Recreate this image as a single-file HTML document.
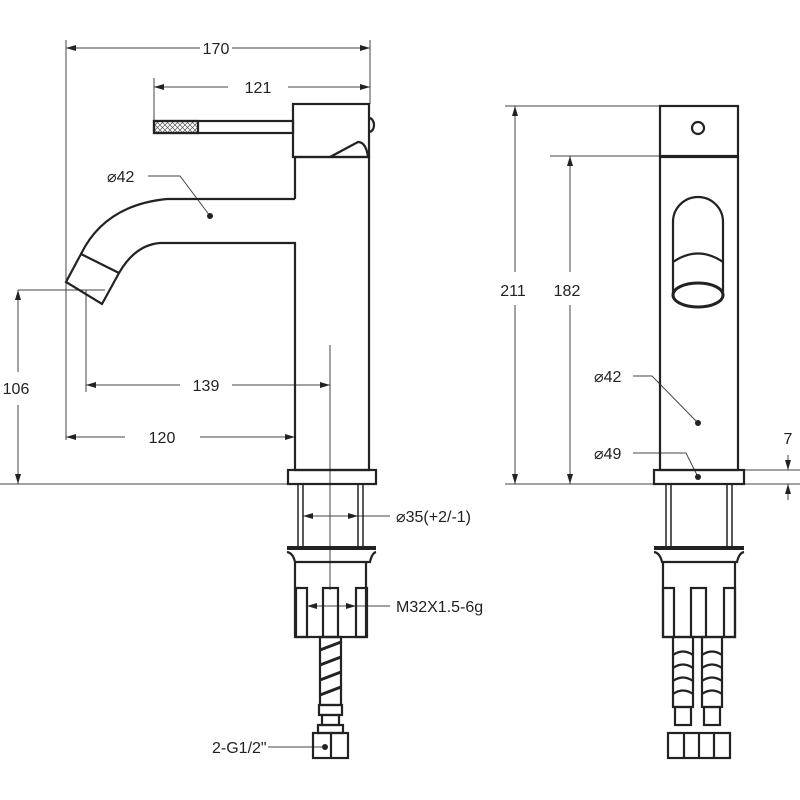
<!DOCTYPE html>
<html><head><style>html,body{margin:0;background:#fff}svg{display:block}text{font-family:"Liberation Sans",sans-serif;font-size:16px;fill:#222}</style></head><body>
<svg width="800" height="800" viewBox="0 0 800 800" xmlns="http://www.w3.org/2000/svg">
<defs>
<marker id="a" markerWidth="10" markerHeight="6" refX="10" refY="3" orient="auto-start-reverse" markerUnits="userSpaceOnUse"><path d="M0,0 L10,3 L0,6z" fill="#222"/></marker>
<pattern id="h" width="5" height="5" patternUnits="userSpaceOnUse"><path d="M0,0L5,5M5,0L0,5" stroke="#555" stroke-width="0.7"/></pattern>
</defs>
<g stroke="#444" stroke-width="1" fill="none">
<path d="M66,40V440M370,40V104M154,78V121M18,290H105M86,290V392M295,430V444M330,345V590M0,484H376M505,484H800M505,106H660M550,156H660M744,470H800M744,484H800"/>
<line x1="66" y1="48" x2="200" y2="48" marker-start="url(#a)"/><line x1="232" y1="48" x2="370" y2="48" marker-end="url(#a)"/>
<line x1="154" y1="87" x2="228" y2="87" marker-start="url(#a)"/><line x1="288" y1="87" x2="370" y2="87" marker-end="url(#a)"/>
<line x1="86" y1="385" x2="180" y2="385" marker-start="url(#a)"/><line x1="232" y1="385" x2="330" y2="385" marker-end="url(#a)"/>
<line x1="66" y1="437" x2="125" y2="437" marker-start="url(#a)"/><line x1="200" y1="437" x2="295" y2="437" marker-end="url(#a)"/>
<line x1="18" y1="290" x2="18" y2="372" marker-start="url(#a)"/><line x1="18" y1="405" x2="18" y2="484" marker-end="url(#a)"/>
<line x1="303" y1="516" x2="358" y2="516" marker-start="url(#a)" marker-end="url(#a)"/><line x1="358" y1="516" x2="390" y2="516"/>
<line x1="307" y1="606" x2="356" y2="606" marker-start="url(#a)" marker-end="url(#a)"/><line x1="356" y1="606" x2="390" y2="606"/>
<line x1="268" y1="747" x2="325" y2="747"/>
<path d="M148,176H180L210,216"/>
<line x1="515" y1="106" x2="515" y2="272" marker-start="url(#a)"/><line x1="515" y1="305" x2="515" y2="484" marker-end="url(#a)"/>
<line x1="570" y1="156" x2="570" y2="272" marker-start="url(#a)"/><line x1="570" y1="305" x2="570" y2="484" marker-end="url(#a)"/>
<path d="M633,376H652L698,423M633,453H686L698,477"/>
<line x1="788" y1="455" x2="788" y2="470" marker-end="url(#a)"/><line x1="788" y1="500" x2="788" y2="484" marker-end="url(#a)"/>
</g>
<g fill="#222"><circle cx="210" cy="216" r="3"/><circle cx="698" cy="423" r="3"/><circle cx="698" cy="477" r="3"/><circle cx="325" cy="747" r="3"/></g>
<g stroke="#222" stroke-width="2.2" fill="none">
<rect x="154" y="121" width="139" height="12" fill="#fff"/>
<rect x="154" y="121" width="44" height="12" fill="url(#h)"/>
<rect x="293" y="104" width="76" height="53"/>
<path d="M330,157L358,142Q366,142 368,157"/>
<path d="M369,118a5,7 0 0 1 0,14"/>
<path d="M295,157V199M295,157H369V470H295V243H160Q135,245 119,273M295,199H167Q105,205 81,254"/>
<path d="M81,254L66,282L102,304L119,273Z"/>
<rect x="288" y="470" width="88" height="14"/>
<path d="M298,484V548M303,484V548M358,484V548M363,484V548" stroke-width="1.5"/>
<path d="M287,548H376" stroke-width="4"/>
<path d="M287,552Q293,553 295,562H370Q372,553 376,552M295,562V637H366V562"/>
<rect x="296" y="588" width="11" height="49"/><rect x="323" y="588" width="15" height="49"/><rect x="356" y="588" width="11" height="49"/>
<rect x="320" y="637" width="21" height="68"/>
<path d="M320,650L341,642M320,665L341,657M320,680L341,672M320,695L341,687" stroke-width="3"/>
<rect x="319" y="705" width="23" height="10"/><rect x="322" y="715" width="17" height="10"/><rect x="318" y="725" width="25" height="8"/>
<rect x="313" y="733" width="35" height="25"/><path d="M331,733V758"/>
</g>
<g stroke="#222" stroke-width="2.2" fill="none">
<rect x="660" y="106" width="78" height="50"/><circle cx="698" cy="128" r="6"/>
<rect x="660" y="157" width="78" height="313"/>
<path d="M673,295V222A25,25 0 0 1 723,222V295M673,262Q698,245 723,262"/>
<ellipse cx="698" cy="295" rx="25" ry="12" stroke-width="3"/>
<rect x="654" y="470" width="90" height="14"/>
<path d="M666,484V548M671,484V548M727,484V548M732,484V548" stroke-width="1.5"/>
<path d="M654,548H744" stroke-width="4"/>
<path d="M654,552Q660,553 662,562H737Q739,553 744,552M663,562V637H735V562"/>
<rect x="663" y="588" width="11" height="49"/><rect x="691" y="588" width="15" height="49"/><rect x="724" y="588" width="11" height="49"/>
<rect x="673" y="637" width="20" height="70"/><rect x="702" y="637" width="20" height="70"/>
<path d="M673,655Q683,648 693,655M673,668Q683,661 693,668M673,681Q683,674 693,681M673,694Q683,687 693,694M702,655Q712,648 722,655M702,668Q712,661 722,668M702,681Q712,674 722,681M702,694Q712,687 722,694"/>
<rect x="675" y="707" width="16" height="18"/><rect x="704" y="707" width="16" height="18"/>
<rect x="668" y="733" width="62" height="25"/><path d="M684,733V758M699,733V758M714,733V758"/>
</g>
<g>
<text x="216" y="54" text-anchor="middle">170</text>
<text x="258" y="93" text-anchor="middle">121</text>
<text x="107" y="182">⌀42</text>
<text x="206" y="391" text-anchor="middle">139</text>
<text x="162" y="443" text-anchor="middle">120</text>
<text x="16" y="394" text-anchor="middle">106</text>
<text x="396" y="522">⌀35(+2/-1)</text>
<text x="396" y="612">M32X1.5-6g</text>
<text x="212" y="753">2-G1/2"</text>
<text x="513" y="296" text-anchor="middle">211</text>
<text x="567" y="296" text-anchor="middle">182</text>
<text x="594" y="382">⌀42</text>
<text x="594" y="459">⌀49</text>
<text x="788" y="444" text-anchor="middle">7</text>
</g>
</svg>
</body></html>
